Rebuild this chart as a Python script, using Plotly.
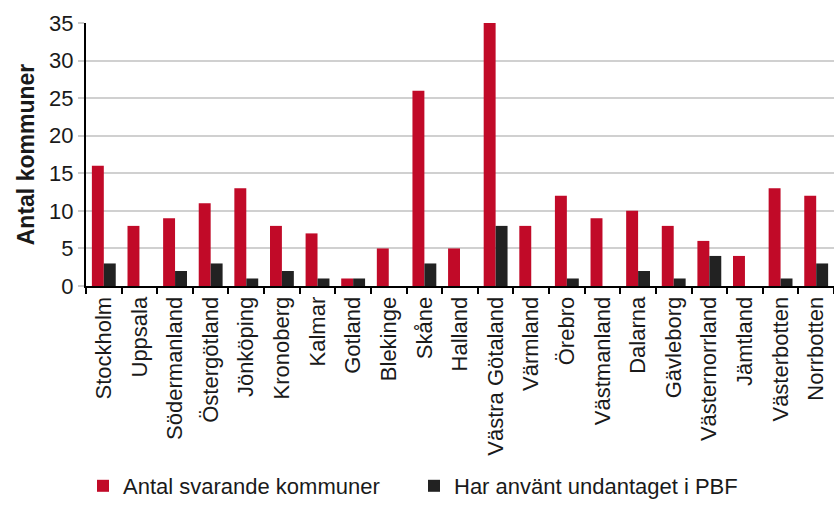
import plotly.graph_objects as go

lan = ["Stockholm", "Uppsala", "Södermanland", "Östergötland", "Jönköping",
       "Kronoberg", "Kalmar", "Gotland", "Blekinge", "Skåne", "Halland",
       "Västra Götaland", "Värmland", "Örebro", "Västmanland", "Dalarna",
       "Gävleborg", "Västernorrland", "Jämtland", "Västerbotten", "Norrbotten"]
svarande = [16, 8, 9, 11, 13, 8, 7, 1, 5, 26, 5, 35, 8, 12, 9, 10, 8, 6, 4, 13, 12]
undantag = [3, 0, 2, 3, 1, 2, 1, 1, 0, 3, 0, 8, 0, 1, 0, 2, 1, 4, 0, 1, 3]
y_ticks = [0, 5, 10, 15, 20, 25, 30, 35]

FONT = "Liberation Sans, Arial, sans-serif"
W, H = 834, 507

fig = go.Figure()
fig.add_trace(go.Bar(x=lan, y=svarande, name="Antal svarande kommuner",
                     legend="legend",
                     marker=dict(color="#C10A28", line=dict(width=0))))
fig.add_trace(go.Bar(x=lan, y=undantag, name="Har använt undantaget i PBF",
                     legend="legend2",
                     marker=dict(color="#222222", line=dict(width=0))))

legend_style = dict(orientation="h", xref="container", xanchor="left",
                    yref="container", y=-0.012, yanchor="bottom",
                    font=dict(size=22, family=FONT, color="#1a1a1a"),
                    itemwidth=30, bgcolor="rgba(0,0,0,0)")

fig.update_layout(
    width=W, height=H,
    margin=dict(l=86, r=0, t=23, b=221, autoexpand=False),
    paper_bgcolor="white", plot_bgcolor="white",
    barmode="group", bargap=0.33, bargroupgap=0,
    font=dict(family=FONT, color="#1a1a1a"),
    legend=dict(x=83 / W, **legend_style),
    legend2=dict(x=414 / W, **legend_style),
    showlegend=True,
)
fig.update_xaxes(
    type="category", tickangle=-90, tickfont=dict(size=22, family=FONT),
    automargin=False,
    showline=True, linecolor="black", linewidth=2,
    ticks="outside", tickson="boundaries", ticklen=6, tickwidth=2, tickcolor="black",
    showgrid=False,
)
fig.update_yaxes(
    range=[0, 35], tickvals=y_ticks, tickfont=dict(size=22, family=FONT),
    automargin=False,
    showline=True, linecolor="black", linewidth=2,
    ticks="outside", ticklen=6, tickcolor="#cccccc", tickwidth=2,
    showgrid=True, gridcolor="#d0d0d0", gridwidth=2,
    zeroline=False,
    title=dict(text="<b>Antal kommuner</b>", font=dict(size=23, family=FONT), standoff=8),
)

fig.write_html("out.html")
